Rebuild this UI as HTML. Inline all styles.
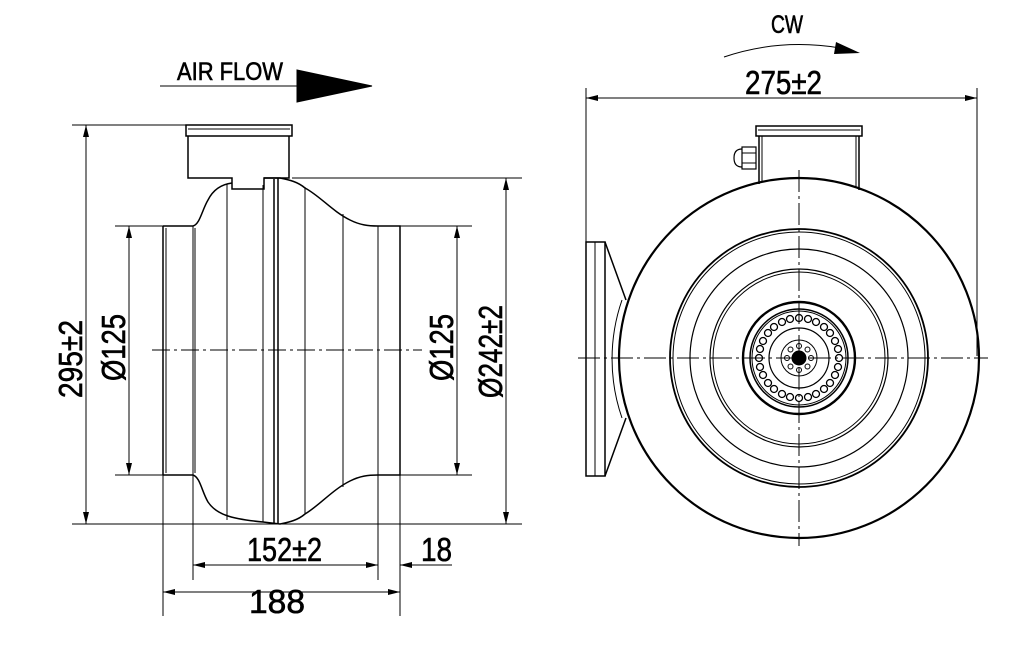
<!DOCTYPE html>
<html><head><meta charset="utf-8"><style>
html,body{margin:0;padding:0;background:#fff;}
svg{display:block}
text{font-family:"Liberation Sans",sans-serif;fill:#000}
</style></head><body>
<svg width="1024" height="659" viewBox="0 0 1024 659" xmlns="http://www.w3.org/2000/svg">
<defs>
<marker id="a" viewBox="0 0 12 6" refX="12" refY="3" markerWidth="12" markerHeight="6" orient="auto-start-reverse" markerUnits="userSpaceOnUse"><path d="M0,0L12,3L0,6z" fill="#000"/></marker>
</defs>
<g fill="none" stroke="#000" stroke-width="1">
<line x1="160" y1="86" x2="297" y2="86"/>
<path d="M297,70 L372,86 L297,102 Z" fill="#000"/>
<path d="M724,57 Q780,38 840,48" />
<path d="M836,42 L860,53 L834,54 Z" fill="#000" stroke="none"/>
<line x1="586" y1="98" x2="977" y2="98" marker-start="url(#a)" marker-end="url(#a)"/>
<line x1="586" y1="88" x2="586" y2="242"/>
<line x1="977" y1="88" x2="977" y2="356"/>

<line x1="72" y1="125" x2="292" y2="125"/>
<line x1="72" y1="524" x2="522" y2="524"/>
<line x1="86" y1="125" x2="86" y2="524" marker-start="url(#a)" marker-end="url(#a)"/>
<rect x="186" y="125" width="106" height="11" stroke-width="1.5"/>
<line x1="188" y1="129" x2="290" y2="129"/>
<path d="M188,136 V178 H232 V189 H264 V178 H289 V136" stroke-width="1.5"/>
<path d="M163,226 H193 C200,224 202,210 208,200 C214,188 224,184 232,183" stroke-width="1.5"/>
<path d="M163,475 H193 C200,477 202,492 208,502 C216,514 230,519 263,522 L280,524 C290,522 298,520 305,514 C320,505 332,490 350,481 C360,476 368,475 378,475 H400 V226 H378 C368,226 360,225 350,220 C332,211 320,196 305,188 C298,182 290,180 280,178 L264,178" stroke-width="1.5"/>
<line x1="163" y1="226" x2="163" y2="475" stroke-width="1.5"/>
<line x1="166" y1="228" x2="166" y2="473"/>
<line x1="193" y1="226" x2="193" y2="475"/>
<line x1="195" y1="228" x2="195" y2="473"/>
<line x1="227" y1="184" x2="227" y2="520"/>
<line x1="263" y1="185" x2="263" y2="522"/>
<line x1="274" y1="179" x2="274" y2="524" stroke-width="1.5"/>
<line x1="278" y1="178" x2="278" y2="524" stroke-width="1.5"/>
<line x1="305" y1="187" x2="305" y2="514"/>
<line x1="343" y1="214" x2="343" y2="487"/>
<line x1="378" y1="226" x2="378" y2="475"/>
<line x1="152" y1="350" x2="422" y2="350" stroke-dasharray="18,4,3,4"/>
<line x1="115" y1="226" x2="163" y2="226"/>
<line x1="115" y1="475" x2="163" y2="475"/>
<line x1="129" y1="226" x2="129" y2="475" marker-start="url(#a)" marker-end="url(#a)"/>
<line x1="400" y1="226" x2="472" y2="226"/>
<line x1="400" y1="475" x2="472" y2="475"/>
<line x1="457" y1="226" x2="457" y2="475" marker-start="url(#a)" marker-end="url(#a)"/>
<line x1="292" y1="178" x2="522" y2="178"/>
<line x1="506" y1="178" x2="506" y2="524" marker-start="url(#a)" marker-end="url(#a)"/>
<line x1="193" y1="475" x2="193" y2="580"/>
<line x1="378" y1="475" x2="378" y2="580"/>
<line x1="163" y1="475" x2="163" y2="616"/>
<line x1="400" y1="475" x2="400" y2="616"/>
<line x1="193" y1="565" x2="378" y2="565" marker-start="url(#a)" marker-end="url(#a)"/>
<line x1="400" y1="565" x2="452" y2="565" marker-start="url(#a)"/>
<line x1="163" y1="592" x2="400" y2="592" marker-start="url(#a)" marker-end="url(#a)"/>

<rect x="756" y="126" width="106" height="10" stroke-width="1.5"/>
<line x1="758" y1="130" x2="860" y2="130"/>
<path d="M759,136 V184 M859,136 V190" stroke-width="1.5"/>
<line x1="762" y1="136" x2="762" y2="182"/>
<line x1="856" y1="136" x2="856" y2="188"/>
<rect x="742" y="147" width="14" height="22" stroke-width="1.2"/>
<path d="M742,149 Q734,149 734,158 Q734,167 742,167" stroke-width="1.2"/>
<line x1="742" y1="153" x2="756" y2="153"/><line x1="742" y1="163" x2="756" y2="163"/>
<rect x="586" y="242" width="19" height="234" stroke-width="1.5"/>
<line x1="595" y1="242" x2="595" y2="476"/>
<path d="M605,242 L626,300 M605,476 L626,418" stroke-width="1.5"/>
<circle cx="799" cy="358" r="180" stroke-width="2.2"/>
<path d="M622,300 A180,180 0 0 0 622,418" stroke-width="1"/>
<circle cx="799" cy="358" r="129" stroke-width="1.8"/>
<circle cx="799" cy="358" r="126" stroke-width="1"/>
<circle cx="799" cy="358" r="109" stroke-width="1.2"/>
<circle cx="799" cy="358" r="89" stroke-width="1.2"/>
<circle cx="799" cy="358" r="86" stroke-width="1"/>
<circle cx="799" cy="358" r="56" stroke-width="2.4"/>
<circle cx="799" cy="358" r="49" stroke-width="1.5"/>
<circle cx="799" cy="358" r="47" stroke-width="1"/>
<circle cx="799" cy="358" r="30" stroke-width="1.2"/>
<circle cx="799" cy="358" r="18" stroke-width="1"/>
<circle cx="799" cy="358" r="7" fill="#000"/>
<g stroke-width="1.3">
<circle cx="799" cy="318" r="3.5"/><circle cx="808" cy="319" r="3.5"/><circle cx="816" cy="322" r="3.5"/><circle cx="824" cy="327" r="3.5"/><circle cx="830" cy="333" r="3.5"/><circle cx="835" cy="341" r="3.5"/><circle cx="838" cy="349" r="3.5"/><circle cx="839" cy="358" r="3.5"/><circle cx="838" cy="367" r="3.5"/><circle cx="835" cy="375" r="3.5"/><circle cx="830" cy="383" r="3.5"/><circle cx="824" cy="389" r="3.5"/><circle cx="816" cy="394" r="3.5"/><circle cx="808" cy="397" r="3.5"/><circle cx="799" cy="398" r="3.5"/><circle cx="790" cy="397" r="3.5"/><circle cx="782" cy="394" r="3.5"/><circle cx="774" cy="389" r="3.5"/><circle cx="768" cy="383" r="3.5"/><circle cx="763" cy="375" r="3.5"/><circle cx="760" cy="367" r="3.5"/><circle cx="759" cy="358" r="3.5"/><circle cx="760" cy="349" r="3.5"/><circle cx="763" cy="341" r="3.5"/><circle cx="768" cy="333" r="3.5"/><circle cx="774" cy="327" r="3.5"/><circle cx="782" cy="322" r="3.5"/><circle cx="790" cy="319" r="3.5"/>
</g>
<g stroke-width="1">
<circle cx="799" cy="346" r="2.5"/><circle cx="807.5" cy="349.5" r="2.5"/><circle cx="811" cy="358" r="2.5"/><circle cx="807.5" cy="366.5" r="2.5"/><circle cx="799" cy="370" r="2.5"/><circle cx="790.5" cy="366.5" r="2.5"/><circle cx="787" cy="358" r="2.5"/><circle cx="790.5" cy="349.5" r="2.5"/>
</g>
<line x1="578" y1="358" x2="988" y2="358" stroke-dasharray="22,4,3,4"/>
<line x1="799" y1="170" x2="799" y2="546" stroke-dasharray="22,4,3,4"/>
</g>
<g stroke="#000" stroke-width="0.6">
<text x="177" y="80" font-size="25" textLength="106" lengthAdjust="spacingAndGlyphs">AIR FLOW</text>
<text x="771" y="33" font-size="25" textLength="32" lengthAdjust="spacingAndGlyphs">CW</text>
<text x="745" y="94" font-size="33" textLength="77" lengthAdjust="spacingAndGlyphs">275±2</text>
<text x="247" y="561" font-size="33" textLength="75" lengthAdjust="spacingAndGlyphs">152±2</text>
<text x="421" y="561" font-size="33" textLength="31" lengthAdjust="spacingAndGlyphs">18</text>
<text x="249" y="613" font-size="33" textLength="56" lengthAdjust="spacingAndGlyphs">188</text>
<text transform="translate(82,398) rotate(-90)" font-size="33" textLength="78" lengthAdjust="spacingAndGlyphs">295±2</text>
<text transform="translate(125,381) rotate(-90)" font-size="33" textLength="67" lengthAdjust="spacingAndGlyphs">Ø125</text>
<text transform="translate(453,381) rotate(-90)" font-size="33" textLength="67" lengthAdjust="spacingAndGlyphs">Ø125</text>
<text transform="translate(502,398) rotate(-90)" font-size="33" textLength="93" lengthAdjust="spacingAndGlyphs">Ø242±2</text>
</g>
</svg>
</body></html>
